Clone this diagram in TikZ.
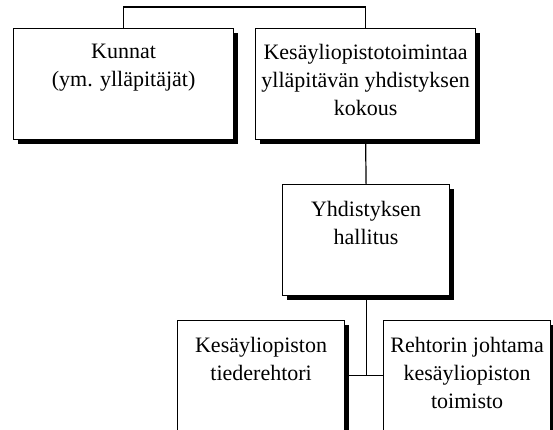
\documentclass[tikz,border=0pt]{standalone}
\usepackage{fontspec}
\setmainfont{Liberation Serif}
\usetikzlibrary{shadows, positioning}

\tikzset{
  laatikko/.style={draw, fill=white, line width=1.2pt, inner sep=0pt, anchor=north west,
    drop shadow={shadow xshift=4pt, shadow yshift=-4pt, fill=black, opacity=1}},
  teksti/.style={align=center, inner sep=0pt, anchor=north,
    font=\fontsize{22}{28}\selectfont},
  viiva/.style={line width=1.2pt}
}

\begin{document}
\begin{tikzpicture}[x=1pt, y=-1pt]
\clip (0,0) rectangle (553,429);
\fill[white] (0,0) rectangle (553,429);

\node[laatikko, minimum width=220pt, minimum height=111pt] (kunnat) at (13,28) {};
\node[laatikko, minimum width=220pt, minimum height=111pt] (kokous) at (255,28) {};
\node[laatikko, minimum width=167pt, minimum height=111pt] (hallitus) at (282,184) {};
\node[laatikko, minimum width=167pt, minimum height=130pt] (rehtori) at (177,320) {};
\node[laatikko, minimum width=167pt, minimum height=130pt] (toimisto) at (383,320) {};

\node[teksti, below=16pt of kunnat.north] (kunnatT) {Kunnat\\(ym. ylläpitäjät)};
\node[teksti, below=16pt of kokous.north] (kokousT) {Kesäyliopistotoimintaa\\ylläpitävän yhdistyksen\\kokous};
\node[teksti, below=17pt of hallitus.north] (hallitusT) {Yhdistyksen\\hallitus};
\node[teksti, below=17pt of rehtori.north] (rehtoriT) {Kesäyliopiston\\tiederehtori};
\node[teksti, below=17pt of toimisto.north] (toimistoT) {Rehtorin johtama\\kesäyliopiston\\toimisto};

% yhteydet
\draw[viiva] (kunnat.north) -- ++(0,-21) -| (kokous.north);
\draw[viiva] (kokous.south) -- (hallitus.north);
\draw[viiva] (hallitus.south) -- ++(0,79) coordinate (haara);
\draw[viiva] (rehtori.east |- haara) -- (toimisto.west |- haara);
\end{tikzpicture}
\end{document}
